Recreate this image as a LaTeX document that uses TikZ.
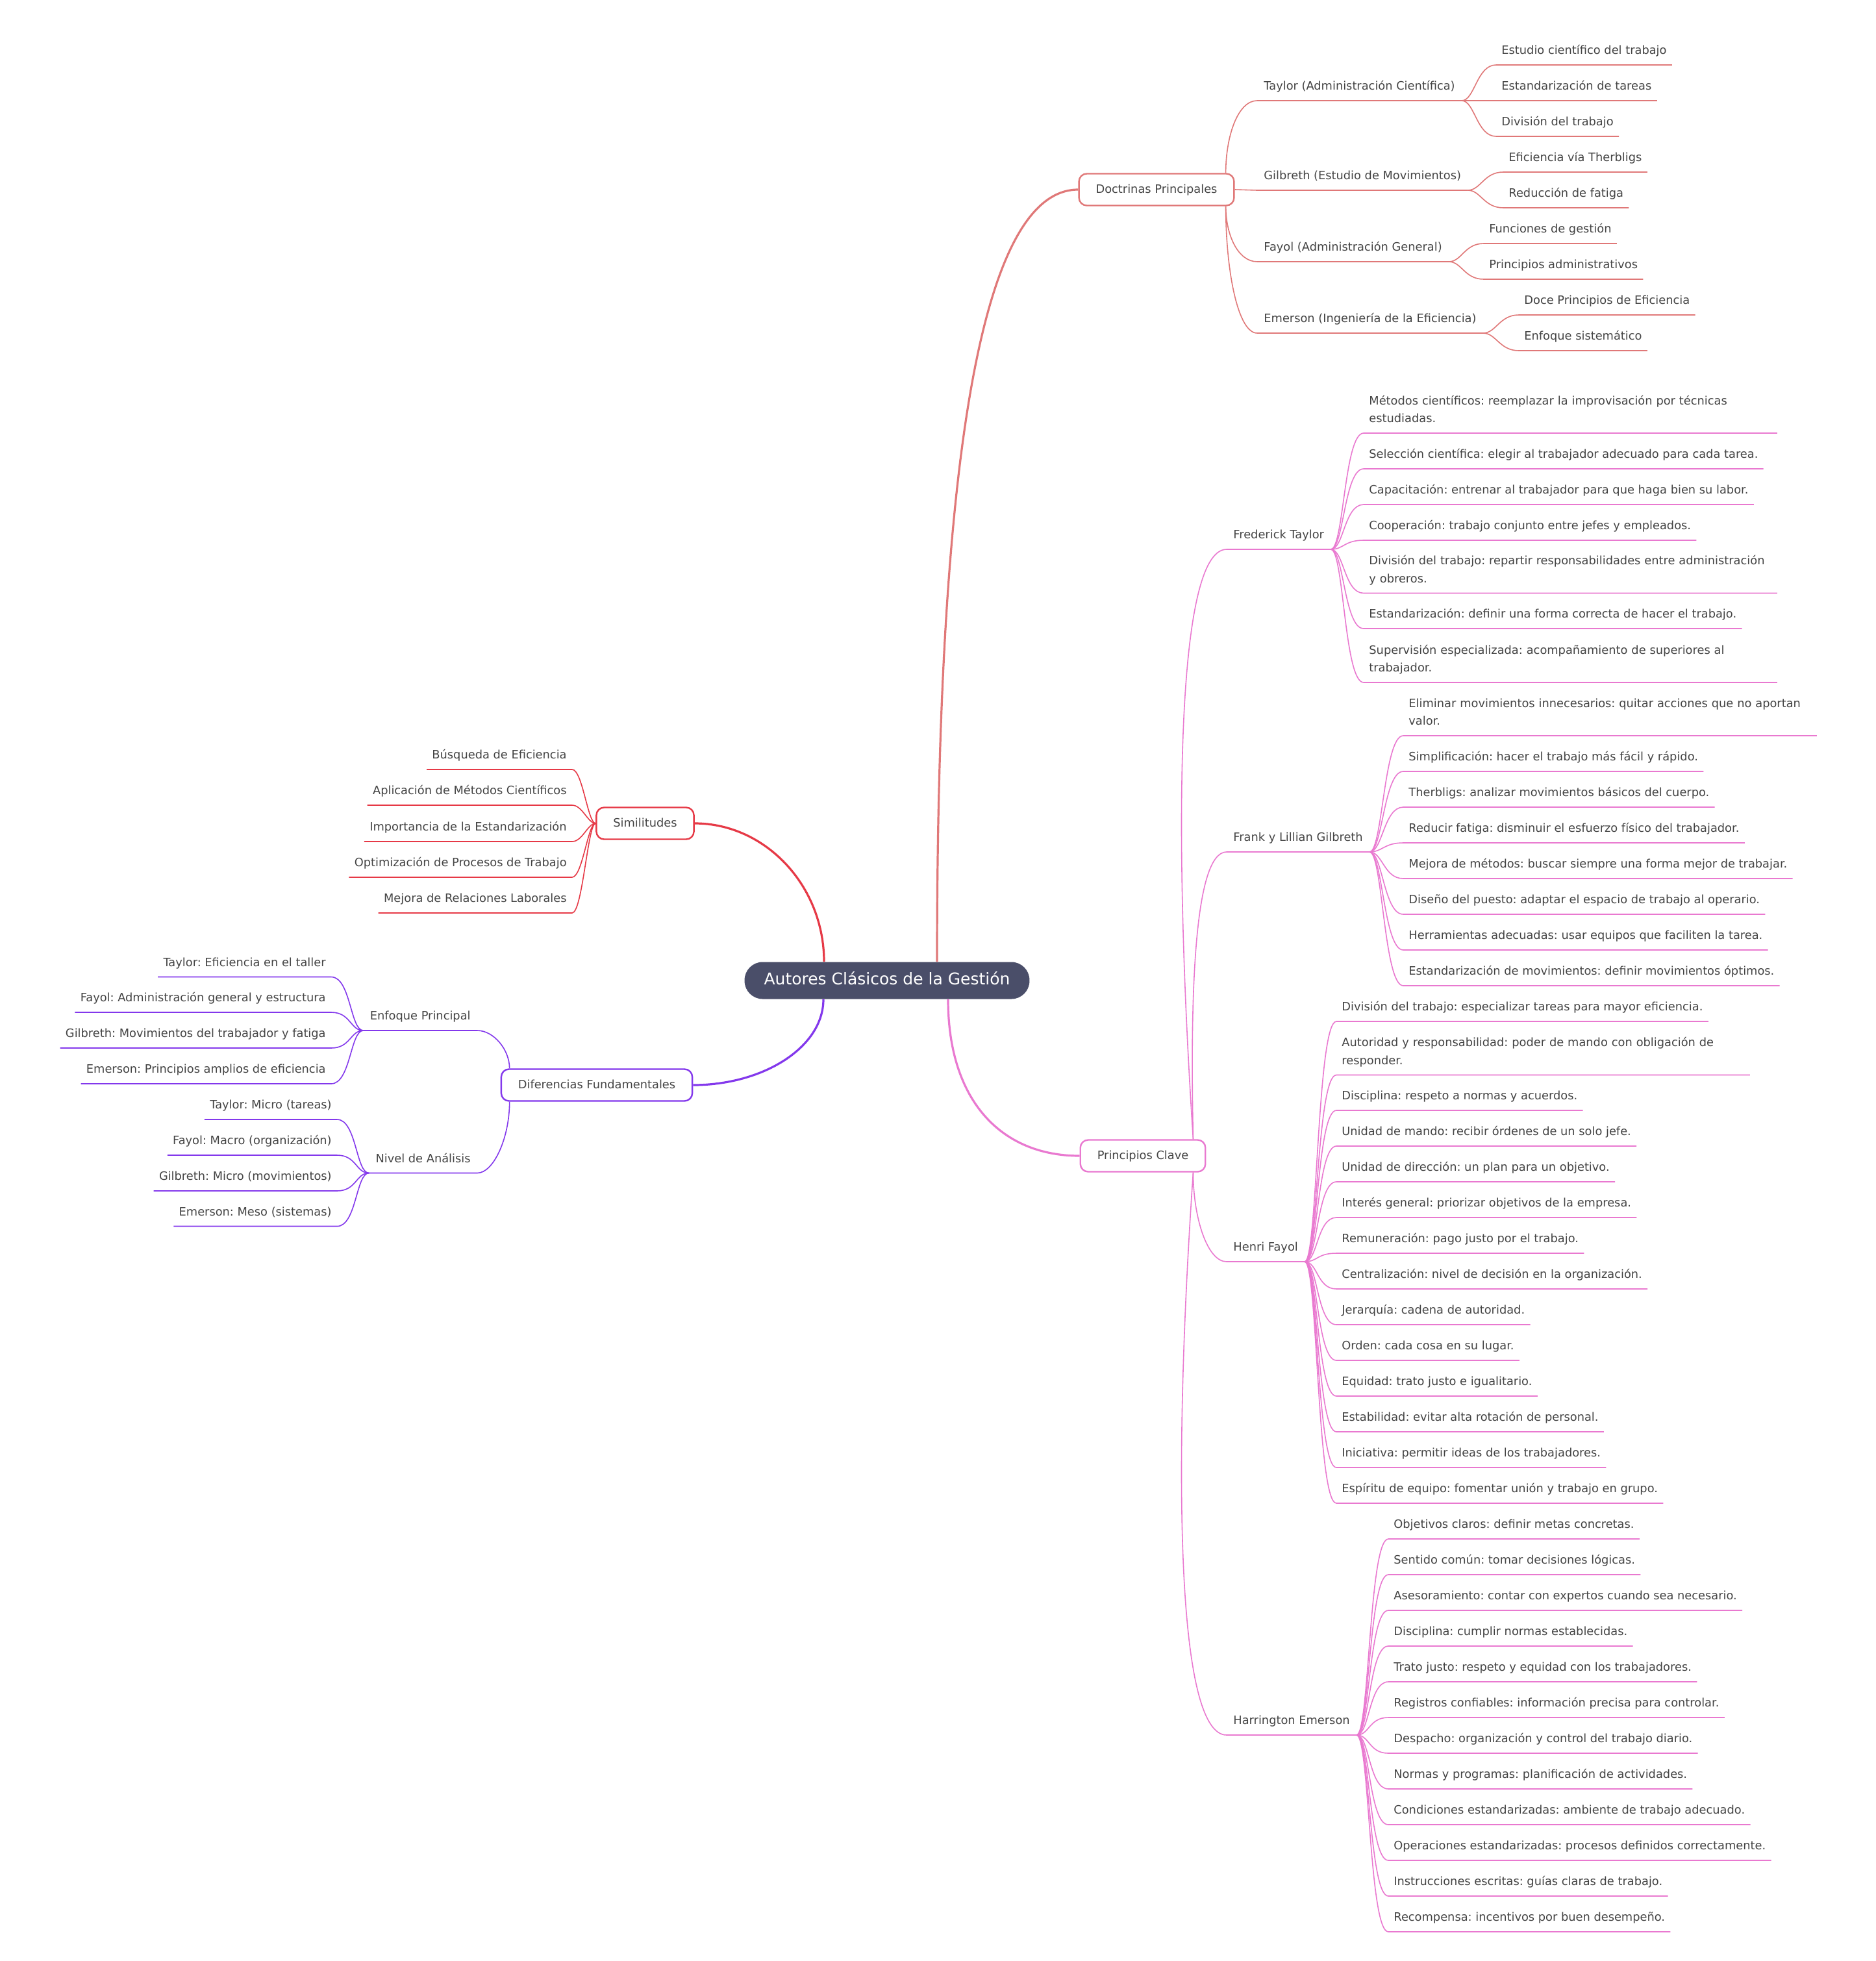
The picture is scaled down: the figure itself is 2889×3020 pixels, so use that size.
\documentclass[tikz,border=0pt]{standalone}
\usepackage{fontspec}
\setmainfont{DejaVu Sans}
\usetikzlibrary{calc}
\definecolor{rootfill}{HTML}{4A4E69}
\definecolor{cdoc}{HTML}{E07878}
\definecolor{csim}{HTML}{E63946}
\definecolor{cdif}{HTML}{8338EC}
\definecolor{cpri}{HTML}{E979D0}
\definecolor{ink}{HTML}{444444}
\newcommand\leafsize{\fontsize{8.9pt}{13.75pt}\selectfont}
\newcommand\lowfix{\rule[-3pt]{0pt}{3pt}}
\frenchspacing

\begin{document}
\begin{tikzpicture}[x=0.5pt, y=-0.5pt,
    rootbox/.style={fill=rootfill, text=white, rounded corners=14pt, minimum height=28.5pt, inner xsep=15pt, text height=9pt, text depth=3pt, font=\fontsize{12.5pt}{15pt}\selectfont},
    box/.style={draw=#1, fill=white, line width=1.2pt, rounded corners=6pt, minimum height=24.5pt, inner xsep=13pt, text height=7pt, text depth=2pt, text=ink, font=\leafsize},
    leaf/.style={text=ink, font=\leafsize, inner xsep=4pt, inner ysep=5pt, text height=7pt, text depth=3pt},
    leafr/.style={leaf, anchor=south west},
    leafl/.style={leaf, anchor=south east},
    leaftwo/.style={leafr, text height=, text depth=, text width=310pt, align=left},
    midr/.style={leafr, inner xsep=5pt},
    midl/.style={leafl, inner xsep=5pt},
    trunk/.style={line width=1.6pt},
    twig/.style={to path={.. controls +(20,0) and +(-30,0) .. (\tikztotarget)}},
    twigl/.style={to path={.. controls +(-20,0) and +(30,0) .. (\tikztotarget)}}]

    \fill[white] (0,0) rectangle (2889,3020);
    \useasboundingbox (0,0) rectangle (2889,3020);

    \node[rootbox] (root) at (1366,1510) {Autores Clásicos de la Gestión};
    \node[box=cdoc] (doc) at (1781,292)   {Doctrinas Principales};
    \node[box=cpri] (pc)  at (1760,1780)  {Principios Clave};
    \node[box=csim] (sim) at (993.5,1268) {Similitudes};
    \node[box=cdif] (dif) at (919,1671)   {Diferencias Fundamentales};

    \node[midr] (dt) at (1936,155) {Taylor (Administración Científica)};
    \node[midr] (dg) at (1936,293) {Gilbreth (Estudio de Movimientos)};
    \node[midr] (df) at (1936,403) {Fayol (Administración General)};
    \node[midr] (de) at (1936,513) {Emerson (Ingeniería de la Eficiencia)};

    \node[leafr] (dt1) at (2304,100) {Estudio científico del trabajo};
    \node[leafr] (dt2) at (2304,155) {Estandarización de tareas};
    \node[leafr] (dt3) at (2304,210) {División del trabajo};
    \node[leafr] (dg1) at (2315,265) {Eficiencia vía Therbligs};
    \node[leafr] (dg2) at (2315,320) {Reducción de fatiga};
    \node[leafr] (df1) at (2285,375) {Funciones de gestión};
    \node[leafr] (df2) at (2285,430) {Principios administrativos};
    \node[leafr] (de1) at (2339,485) {Doce Principios de Eficiencia};
    \node[leafr] (de2) at (2339,540) {Enfoque sistemático};

    \node[midr] (ft) at (1889,846)  {Frederick Taylor};
    \node[midr] (gb) at (1889,1312) {Frank y Lillian Gilbreth};
    \node[midr] (hf) at (1889,1943) {Henri Fayol};
    \node[midr] (he) at (1889,2672) {Harrington Emerson};

    \node[leaftwo] (ft1) at (2100,667)  {Métodos científicos: reemplazar la improvisación por técnicas\\estudiadas.\lowfix};
    \node[leafr]   (ft2) at (2100,722)  {Selección científica: elegir al trabajador adecuado para cada tarea.};
    \node[leafr]   (ft3) at (2100,777)  {Capacitación: entrenar al trabajador para que haga bien su labor.};
    \node[leafr]   (ft4) at (2100,832)  {Cooperación: trabajo conjunto entre jefes y empleados.};
    \node[leaftwo] (ft5) at (2100,913.5){División del trabajo: repartir responsabilidades entre administración\\y obreros.\lowfix};
    \node[leafr]   (ft6) at (2100,968)  {Estandarización: definir una forma correcta de hacer el trabajo.};
    \node[leaftwo] (ft7) at (2100,1051) {Supervisión especializada: acompañamiento de superiores al\\trabajador.\lowfix};

    \node[leaftwo] (gb1) at (2161,1133) {Eliminar movimientos innecesarios: quitar acciones que no aportan\\valor.\lowfix};
    \node[leafr]   (gb2) at (2161,1188) {Simplificación: hacer el trabajo más fácil y rápido.};
    \node[leafr]   (gb3) at (2161,1243) {Therbligs: analizar movimientos básicos del cuerpo.};
    \node[leafr]   (gb4) at (2161,1298) {Reducir fatiga: disminuir el esfuerzo físico del trabajador.};
    \node[leafr]   (gb5) at (2161,1353) {Mejora de métodos: buscar siempre una forma mejor de trabajar.};
    \node[leafr]   (gb6) at (2161,1408) {Diseño del puesto: adaptar el espacio de trabajo al operario.};
    \node[leafr]   (gb7) at (2161,1463) {Herramientas adecuadas: usar equipos que faciliten la tarea.};
    \node[leafr]   (gb8) at (2161,1518) {Estandarización de movimientos: definir movimientos óptimos.};

    \node[leafr]   (hf1)  at (2058,1573)   {División del trabajo: especializar tareas para mayor eficiencia.};
    \node[leaftwo] (hf2)  at (2058,1655.5) {Autoridad y responsabilidad: poder de mando con obligación de\\responder.\lowfix};
    \node[leafr]   (hf3)  at (2058,1710) {Disciplina: respeto a normas y acuerdos.};
    \node[leafr]   (hf4)  at (2058,1765) {Unidad de mando: recibir órdenes de un solo jefe.};
    \node[leafr]   (hf5)  at (2058,1820) {Unidad de dirección: un plan para un objetivo.};
    \node[leafr]   (hf6)  at (2058,1875) {Interés general: priorizar objetivos de la empresa.};
    \node[leafr]   (hf7)  at (2058,1930) {Remuneración: pago justo por el trabajo.};
    \node[leafr]   (hf8)  at (2058,1985) {Centralización: nivel de decisión en la organización.};
    \node[leafr]   (hf9)  at (2058,2040) {Jerarquía: cadena de autoridad.};
    \node[leafr]   (hf10) at (2058,2095) {Orden: cada cosa en su lugar.};
    \node[leafr]   (hf11) at (2058,2150) {Equidad: trato justo e igualitario.};
    \node[leafr]   (hf12) at (2058,2205) {Estabilidad: evitar alta rotación de personal.};
    \node[leafr]   (hf13) at (2058,2260) {Iniciativa: permitir ideas de los trabajadores.};
    \node[leafr]   (hf14) at (2058,2315) {Espíritu de equipo: fomentar unión y trabajo en grupo.};

    \node[leafr] (he1)  at (2138,2370) {Objetivos claros: definir metas concretas.};
    \node[leafr] (he2)  at (2138,2425) {Sentido común: tomar decisiones lógicas.};
    \node[leafr] (he3)  at (2138,2480) {Asesoramiento: contar con expertos cuando sea necesario.};
    \node[leafr] (he4)  at (2138,2535) {Disciplina: cumplir normas establecidas.};
    \node[leafr] (he5)  at (2138,2590) {Trato justo: respeto y equidad con los trabajadores.};
    \node[leafr] (he6)  at (2138,2645) {Registros confiables: información precisa para controlar.};
    \node[leafr] (he7)  at (2138,2700) {Despacho: organización y control del trabajo diario.};
    \node[leafr] (he8)  at (2138,2755) {Normas y programas: planificación de actividades.};
    \node[leafr] (he9)  at (2138,2810) {Condiciones estandarizadas: ambiente de trabajo adecuado.};
    \node[leafr] (he10) at (2138,2865) {Operaciones estandarizadas: procesos definidos correctamente.};
    \node[leafr] (he11) at (2138,2920) {Instrucciones escritas: guías claras de trabajo.};
    \node[leafr] (he12) at (2138,2975) {Recompensa: incentivos por buen desempeño.};

    \node[leafl] (sm1) at (881,1185) {Búsqueda de Eficiencia};
    \node[leafl] (sm2) at (881,1240) {Aplicación de Métodos Científicos};
    \node[leafl] (sm3) at (881,1296) {Importancia de la Estandarización};
    \node[leafl] (sm4) at (881,1351) {Optimización de Procesos de Trabajo};
    \node[leafl] (sm5) at (881,1406) {Mejora de Relaciones Laborales};

    \node[midl] (ep) at (735,1587)   {Enfoque Principal};
    \node[midl] (na) at (735,1806.5) {Nivel de Análisis};

    \node[leafl] (ep1) at (510,1504.5) {Taylor: Eficiencia en el taller};
    \node[leafl] (ep2) at (510,1559)   {Fayol: Administración general y estructura};
    \node[leafl] (ep3) at (510,1614)   {Gilbreth: Movimientos del trabajador y fatiga};
    \node[leafl] (ep4) at (510,1669)   {Emerson: Principios amplios de eficiencia};
    \node[leafl] (na1) at (519,1724)   {Taylor: Micro (tareas)};
    \node[leafl] (na2) at (519,1779)   {Fayol: Macro (organización)};
    \node[leafl] (na3) at (519,1834)   {Gilbreth: Micro (movimientos)};
    \node[leafl] (na4) at (519,1888.5) {Emerson: Meso (sistemas)};

    \coordinate (pcup) at ($(pc.north east)+(-20,0)$);
    \coordinate (pcdn) at ($(pc.south east)+(-20,0)$);

    \begin{scope}[cdoc, line width=0.8pt]
        \draw[trunk] ($(root.north)+(77,0)$) .. controls +(0,-781) and +(-148,0) .. (doc.west);
        \draw ($(doc.north east)+(-14,0)$) .. controls +(0,-56) and +(-30,0) .. (dt.south west) -- (dt.south east);
        \draw (doc.east) -- (dg.south west) -- (dg.south east);
        \draw ($(doc.south east)+(-14,0)$) .. controls +(0,43) and +(-30,0) .. (df.south west) -- (df.south east);
        \draw ($(doc.south east)+(-14,0)$) .. controls +(0,98) and +(-30,0) .. (de.south west) -- (de.south east);
        \foreach \n in {1,2,3} \draw[twig] (dt.south east) to (dt\n.south west) -- (dt\n.south east);
        \foreach \n in {1,2} {
            \draw[twig] (dg.south east) to (dg\n.south west) -- (dg\n.south east);
            \draw[twig] (df.south east) to (df\n.south west) -- (df\n.south east);
            \draw[twig] (de.south east) to (de\n.south west) -- (de\n.south east);
        }
    \end{scope}

    \begin{scope}[cpri, line width=0.8pt]
        \draw[trunk] ($(root.south)+(94,0)$) .. controls +(0,157) and +(-120,0) .. (pc.west);
        \draw (pcup) .. controls +(-30,-455) and +(-80,0) .. (ft.south west) -- (ft.south east);
        \draw (pcup) .. controls +(-5,-222) and +(-50,0) .. (gb.south west) -- (gb.south east);
        \draw (pcdn) .. controls +(0,69) and +(-30,0) .. (hf.south west) -- (hf.south east);
        \draw (pcdn) .. controls +(-30,433) and +(-80,0) .. (he.south west) -- (he.south east);
        \foreach \n in {1,...,7} \draw[twig] (ft.south east) to (ft\n.south west) -- (ft\n.south east);
        \foreach \n in {1,...,8} \draw[twig] (gb.south east) to (gb\n.south west) -- (gb\n.south east);
        \foreach \n in {1,...,14} \draw[twig] (hf.south east) to (hf\n.south west) -- (hf\n.south east);
        \foreach \n in {1,...,12} \draw[twig] (he.south east) to (he\n.south west) -- (he\n.south east);
    \end{scope}

    \begin{scope}[csim, line width=0.8pt]
        \draw[trunk] ($(root.north)+(-97,0)$) .. controls +(0,-117) and +(109,0) .. (sim.east);
        \foreach \n in {1,...,5} \draw (sim.west) .. controls +(-12,0) and +(16,0) .. (sm\n.south east) -- (sm\n.south west);
    \end{scope}

    \begin{scope}[cdif, line width=0.8pt]
        \draw[trunk] ($(root.south)+(-98,0)$) .. controls +(0,74) and +(108,0) .. (dif.east);
        \draw ($(dif.north west)+(14,0)$) .. controls +(0,-29) and +(25,0) .. (ep.south east) -- (ep.south west);
        \draw ($(dif.south west)+(14,0)$) .. controls +(0,56) and +(25,0) .. (na.south east) -- (na.south west);
        \foreach \n in {1,...,4} {
            \draw[twigl] (ep.south west) to (ep\n.south east) -- (ep\n.south west);
            \draw[twigl] (na.south west) to (na\n.south east) -- (na\n.south west);
        }
    \end{scope}
\end{tikzpicture}
\end{document}
